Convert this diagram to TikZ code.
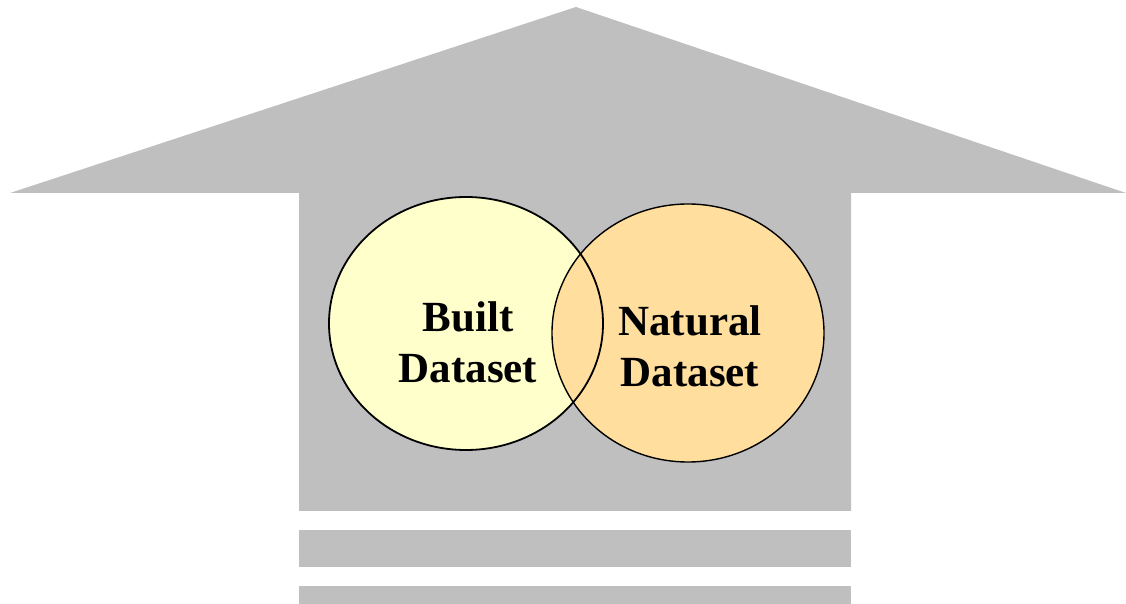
\documentclass[tikz,border=0pt]{standalone}
\usepackage{fontspec}
\setmainfont{Liberation Serif}
\usetikzlibrary{shapes.geometric, positioning}

\definecolor{arrowgray}{RGB}{191,191,191}
\definecolor{builtfill}{RGB}{255,255,204}
\definecolor{naturalfill}{RGB}{255,222,158}

\begin{document}
\begin{tikzpicture}[x=0.5pt, y=-0.5pt,
		set/.style = {ellipse, inner sep=0pt},
		lbl/.style = {font=\fontsize{21.5}{25.5}\selectfont\bfseries, align=center}]
		\useasboundingbox (0,0) rectangle (1126,604);
		% big arrow and the two bars
		\fill[arrowgray] (10,193) -- (576,7) -- (1126,193) -- (851,193) -- (851,511) -- (299,511) -- (299,193) -- cycle;
		\fill[arrowgray] (299,530) rectangle (851,567);
		\fill[arrowgray] (299,586) rectangle (851,604);
		% sets
		\node[set, fill=builtfill, minimum width=137pt, minimum height=126.5pt] (built) at (466,323.5) {};
		\node[set, fill=naturalfill, draw, line width=0.7pt, minimum width=136pt, minimum height=129pt] (natural) at (688,333) {};
		\node[set, draw, line width=0.9pt, minimum width=137pt, minimum height=126.5pt] (builtedge) at (built) {};
		\node[lbl] (builtlbl) at (468,342) {Built\\Dataset};
		\node[lbl] (naturallbl) at (690,346) {Natural\\Dataset};
	\end{tikzpicture}
\end{document}
